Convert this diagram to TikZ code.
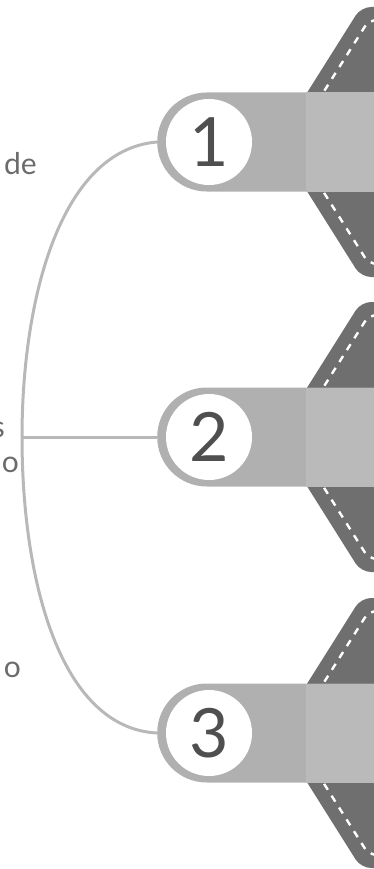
\documentclass[tikz,border=0pt]{standalone}
\usepackage{fontspec}
\setmainfont{Lato}
\usepackage{tikz}
\usetikzlibrary{positioning,calc}
\definecolor{Tail}{HTML}{6F6F6F}
\definecolor{Pill}{HTML}{B0B0B0}
\definecolor{PillLight}{HTML}{BABABA}
\definecolor{Link}{HTML}{B8B8B8}
\definecolor{Digit}{HTML}{4F4F4F}
\definecolor{Note}{HTML}{6B6B6B}

\begin{document}
\begin{tikzpicture}[x=1pt,y=-1pt,
  tail/.style={fill=Tail,rounded corners=10pt},
  stitch/.style={draw=white,line width=2.4pt,dash pattern=on 7pt off 7pt,
    rounded corners=8pt},
  pill/.style={fill=Pill,rounded corners=49.5pt,minimum width=300pt,
    minimum height=99pt,inner sep=0pt,anchor=west},
  numdisc/.style={circle,fill=white,minimum size=86pt,inner sep=0pt,
    text=Digit,font=\fontsize{68}{68}\selectfont},
  link/.style={draw=Link,line width=3pt},
  note/.style={text=Note,font=\fontsize{30}{30}\selectfont,inner sep=0pt,
    anchor=base east}]
  \useasboundingbox (0,0) rectangle (374,869);
  \clip (0,0) rectangle (374,869);

  % tails
  \fill[tail] (276,142) -- (361,7) -- (420,7) -- (420,277) -- (361,277) -- cycle;
  \fill[tail] (276,437) -- (361,302) -- (420,302) -- (420,572) -- (361,572) -- cycle;
  \fill[tail] (276,733) -- (361,598) -- (420,598) -- (420,868) -- (361,868) -- cycle;
  \draw[stitch] (420,20) -- (369,20) -- (292,142) -- (369,264) -- (420,264);
  \draw[stitch] (420,315) -- (369,315) -- (292,437) -- (369,559) -- (420,559);
  \draw[stitch] (420,611) -- (369,611) -- (292,733) -- (369,855) -- (420,855);

  % pills and numbers
  \node[pill] (p1) at (157,142) {};
  \node[pill] (p2) at (157,437) {};
  \node[pill] (p3) at (157,733) {};
  \fill[PillLight] (306,92.5) rectangle (380,191.5);
  \fill[PillLight] (306,387.5) rectangle (380,486.5);
  \fill[PillLight] (306,683.5) rectangle (380,782.5);
  \node[numdisc] (c1) at (209,142) {1};
  \node[numdisc] (c2) at (209,437) {2};
  \node[numdisc] (c3) at (209,733) {3};

  % connectors
  \coordinate (hub) at (22,437);
  \draw[link] (p1.west) .. controls (60,150) and (22,300) .. (hub)
    .. controls (22,580) and (60,728) .. (p3.west);
  \draw[link] (hub) -- (p2.west);

  % cut-off text on the left
  \node[note] (t1) at (37,175) {de};
  \node[note] (t2) at (5,437) {s};
  \node[note] (t3) at (19,472) {o};
  \node[note] (t4) at (21,677) {o};
\end{tikzpicture}
\end{document}
